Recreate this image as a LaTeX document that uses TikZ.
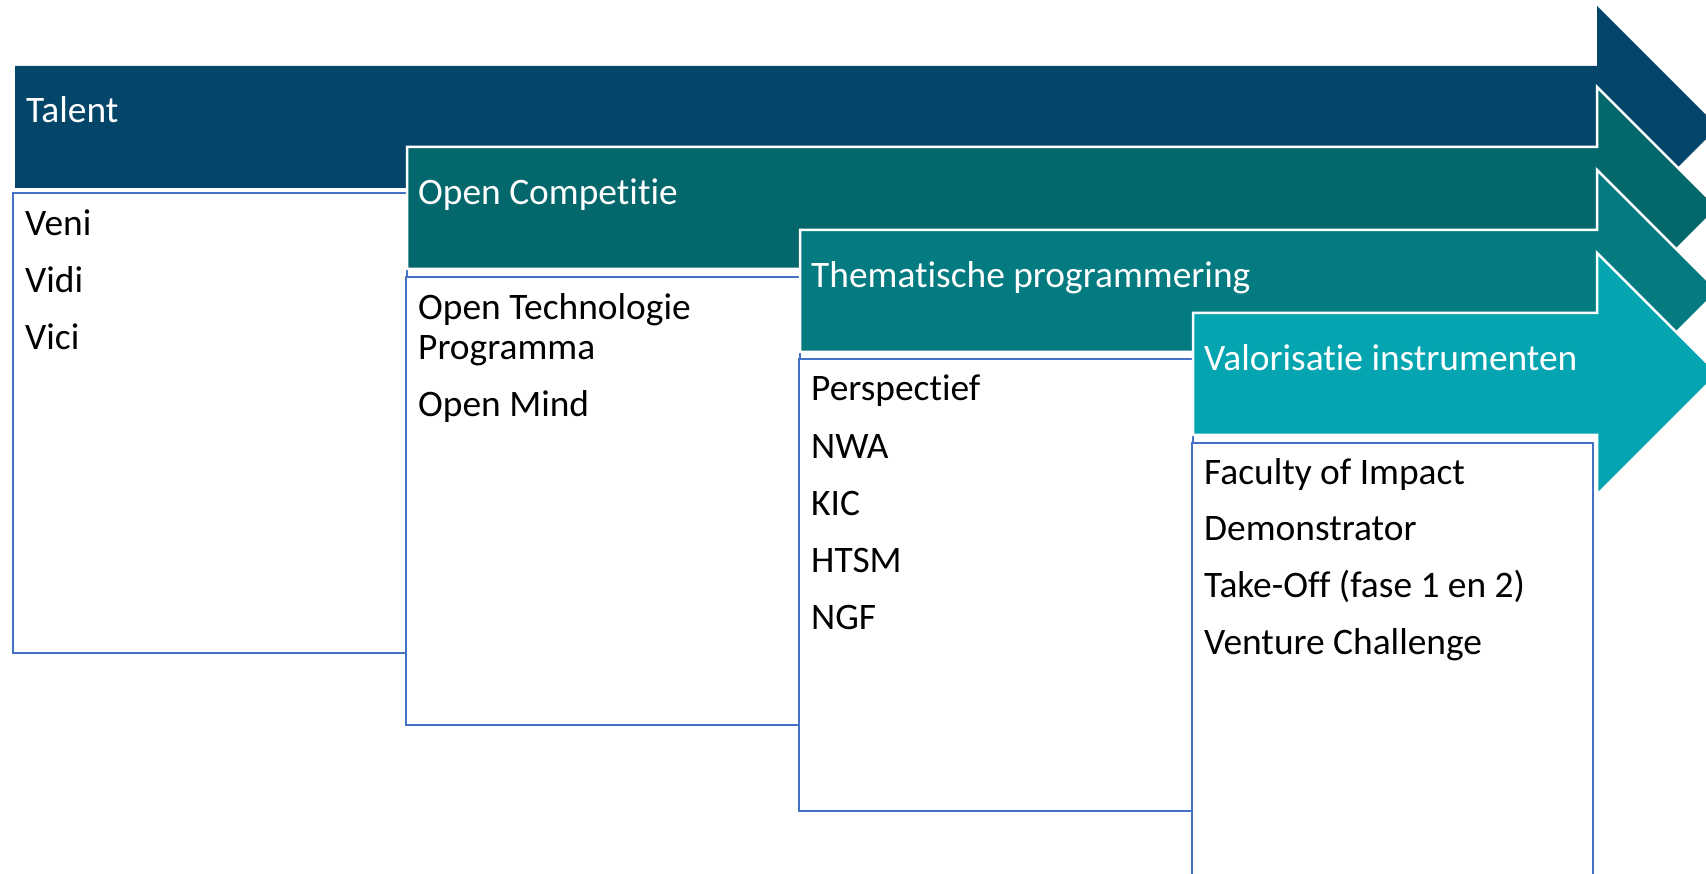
\documentclass[tikz,border=0pt]{standalone}
\usepackage{fontspec}
\setmainfont{Carlito}[Ligatures={NoCommon}]
\definecolor{cTalent}{RGB}{4,69,106}
\definecolor{cOpen}{RGB}{3,103,108}
\definecolor{cThema}{RGB}{3,123,128}
\definecolor{cValor}{RGB}{4,165,176}
\definecolor{boxblue}{RGB}{68,114,196}
\tikzset{
  arrowshape/.style={draw=white, line width=2.5pt, line join=miter},
  listbox/.style={draw=boxblue, fill=white, line width=2pt},
  headtext/.style={anchor=base west, inner sep=0pt, text=white, font=\fontsize{37.4}{40}\selectfont},
  itemtext/.style={anchor=base west, inner sep=0pt, text=black, font=\fontsize{37.4}{40}\selectfont},
}
\begin{document}
\begin{tikzpicture}[x=1pt,y=-1pt]
\useasboundingbox (0,0) rectangle (1706,874);
\clip (0,0) rectangle (1706,874);
% Arrow 1 : Talent
\fill[cTalent] (15,66) -- (1597,66) -- (1597,6) -- (1718,127) -- (1597,248) -- (1597,188) -- (15,188) -- cycle;
\draw[listbox] (13,193) rectangle (407,653);
\node[headtext] (h1) at (26,123) {Talent};
\node[itemtext] (a1) at (25,236) {Veni};
\node[itemtext] (a2) at (25,293) {Vidi};
\node[itemtext] (a3) at (25,350) {Vici};
% Arrow 2 : Open Competitie
\filldraw[arrowshape, fill=cOpen] (407,147) -- (1597,147) -- (1597,87) -- (1718,208) -- (1597,329) -- (1597,269) -- (407,269) -- cycle;
\draw[listbox] (406,277) rectangle (800,725);
\node[headtext] (h2) at (418,205) {Open Competitie};
\node[itemtext] (b1) at (418,320) {Open Technologie};
\node[itemtext] (b2) at (418,360) {Programma};
\node[itemtext] (b3) at (418,417) {Open Mind};
% Arrow 3 : Thematische programmering
\filldraw[arrowshape, fill=cThema] (800,230) -- (1597,230) -- (1597,170) -- (1718,291) -- (1597,412) -- (1597,352) -- (800,352) -- cycle;
\draw[listbox] (799,359) rectangle (1193,811);
\node[headtext] (h3) at (811,288) {Thematische programmering};
\node[itemtext] (c1) at (811,401) {Perspectief};
\node[itemtext] (c2) at (811,458) {NWA};
\node[itemtext] (c3) at (811,515) {KIC};
\node[itemtext] (c4) at (811,572) {HTSM};
\node[itemtext] (c5) at (811,629) {NGF};
% Arrow 4 : Valorisatie instrumenten
\filldraw[arrowshape, fill=cValor] (1193,313) -- (1597,313) -- (1597,253) -- (1718,374) -- (1597,495) -- (1597,435) -- (1193,435) -- cycle;
\draw[listbox] (1192,443) rectangle (1593,900);
\node[headtext] (h4) at (1204,371) {Valorisatie instrumenten};
\node[itemtext] (d1) at (1204,485) {Faculty of Impact};
\node[itemtext] (d2) at (1204,540) {Demonstrator};
\node[itemtext] (d3) at (1204,597) {Take-Off (fase 1 en 2)};
\node[itemtext] (d4) at (1204,654) {Venture Challenge};
\end{tikzpicture}
\end{document}
